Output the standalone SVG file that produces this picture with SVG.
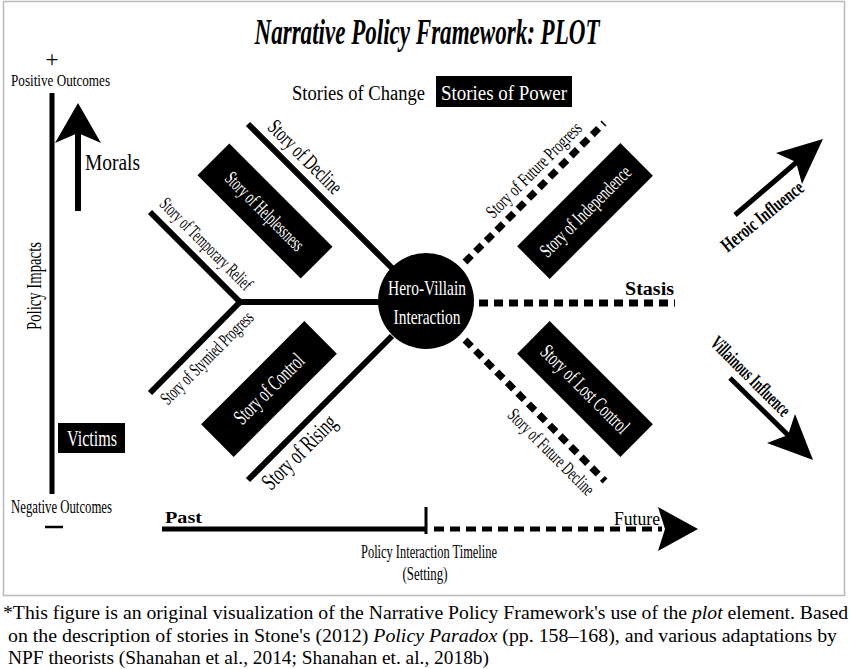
<svg xmlns="http://www.w3.org/2000/svg" width="850" height="669" viewBox="0 0 850 669">
<defs>
<style>
text{font-family:"Liberation Serif","Times New Roman",serif;fill:#000}
.w{fill:#fff}
.c{text-anchor:middle}
.ln{stroke:#000;stroke-width:6;fill:none}
.dl{stroke:#000;stroke-width:7;stroke-dasharray:9 6;fill:none}
.box{fill:#000}
.b{font-weight:bold}
</style>
</defs>
<rect x="0" y="0" width="850" height="669" fill="#fff"/>
<rect x="3.5" y="1.5" width="841" height="594" fill="none" stroke="#bbb" stroke-width="1.5"/>

<g id="title">
<text x="427" y="44" class="c b" font-size="36" font-style="italic" textLength="345" lengthAdjust="spacingAndGlyphs">Narrative Policy Framework: PLOT</text>
</g>

<g id="policy-axis">
<line x1="52" y1="93" x2="52" y2="494" stroke="#000" stroke-width="5"/>
<text x="52" y="67" class="c" font-size="23">+</text>
<text x="11" y="86" font-size="17.5" textLength="99" lengthAdjust="spacingAndGlyphs">Positive Outcomes</text>
<text x="11" y="513" font-size="18" textLength="101" lengthAdjust="spacingAndGlyphs">Negative  Outcomes</text>
<line x1="45" y1="527" x2="63" y2="527" stroke="#000" stroke-width="2.5"/>
<text transform="translate(41,286) rotate(-90)" class="c" font-size="21" textLength="88" lengthAdjust="spacingAndGlyphs">Policy Impacts</text>
</g>

<g id="morals">
<line x1="78" y1="211" x2="78" y2="130" stroke="#000" stroke-width="6"/>
<polygon points="78,103 101,143 78,133 55,143" fill="#000"/>
<text x="85" y="170" font-size="23" textLength="55" lengthAdjust="spacingAndGlyphs">Morals</text>
</g>

<g id="victims">
<rect x="58" y="423" width="67" height="30" class="box"/>
<text x="67" y="446" class="w" font-size="23" textLength="50" lengthAdjust="spacingAndGlyphs">Victims</text>
</g>

<g id="stories-headers">
<text x="292" y="100" font-size="20.5" textLength="133" lengthAdjust="spacingAndGlyphs">Stories of Change</text>
<rect x="436" y="76" width="136" height="31" class="box"/>
<text x="441" y="100" class="w" font-size="21" textLength="126" lengthAdjust="spacingAndGlyphs">Stories of Power</text>
</g>

<g id="connectors">
<line class="ln" x1="248" y1="124" x2="392" y2="268"/>
<line class="ln" x1="237" y1="302" x2="382" y2="302"/>
<line class="ln" x1="150" y1="212" x2="242" y2="304"/>
<line class="ln" x1="242" y1="300" x2="150" y2="393"/>
<line class="ln" x1="248" y1="480" x2="392" y2="336"/>
<line class="dl" x1="465" y1="262" x2="604" y2="123"/>
<line class="dl" x1="479" y1="303" x2="675" y2="303"/>
<line class="dl" x1="465" y1="340" x2="605" y2="481"/>
</g>

<g id="hero-villain">
<circle cx="426" cy="301" r="48" fill="#000"/>
<text x="427" y="295" class="c w" font-size="22" textLength="78" lengthAdjust="spacingAndGlyphs">Hero-Villain</text>
<text x="427" y="324" class="c w" font-size="22" textLength="67" lengthAdjust="spacingAndGlyphs">Interaction</text>
</g>

<g id="story-decline">
<text transform="translate(305,157) rotate(45)" x="0" y="7" class="c" font-size="22" textLength="95" lengthAdjust="spacingAndGlyphs">Story of Decline</text>
</g>
<g id="story-temporary-relief">
<text transform="translate(206,244) rotate(45)" x="0" y="6" class="c" font-size="19" textLength="122" lengthAdjust="spacingAndGlyphs">Story of Temporary Relief</text>
</g>
<g id="story-stymied-progress">
<text transform="translate(207,358) rotate(-45)" x="0" y="6" class="c" font-size="19" textLength="123" lengthAdjust="spacingAndGlyphs">Story of Stymied Progress</text>
</g>
<g id="story-rising">
<text transform="translate(299,452) rotate(-45)" x="0" y="8" class="c" font-size="24" textLength="95" lengthAdjust="spacingAndGlyphs">Story of Rising</text>
</g>
<g id="story-future-progress">
<text transform="translate(534,170) rotate(-45)" x="0" y="6" class="c" font-size="19" textLength="127" lengthAdjust="spacingAndGlyphs">Story of Future Progress</text>
</g>
<g id="story-future-decline">
<text transform="translate(551,452) rotate(45)" x="0" y="6" class="c" font-size="19" textLength="114" lengthAdjust="spacingAndGlyphs">Story of Future Decline</text>
</g>
<g id="stasis">
<text x="625" y="295" font-size="18" class="b" textLength="49" lengthAdjust="spacingAndGlyphs">Stasis</text>
</g>

<g id="story-helplessness" transform="translate(265,211) rotate(45)">
<rect x="-73" y="-22.5" width="146" height="45" class="box"/>
<text x="0" y="7" class="c w" font-size="20" textLength="103" lengthAdjust="spacingAndGlyphs">Story of Helplessness</text>
</g>
<g id="story-control" transform="translate(269,389) rotate(-45)">
<rect x="-73" y="-23" width="146" height="46" class="box"/>
<text x="0" y="7" class="c w" font-size="22" textLength="90" lengthAdjust="spacingAndGlyphs">Story of Control</text>
</g>
<g id="story-independence" transform="translate(585,211) rotate(-45)">
<rect x="-73" y="-23" width="146" height="46" class="box"/>
<text x="0" y="7" class="c w" font-size="20" textLength="120" lengthAdjust="spacingAndGlyphs">Story of Independence</text>
</g>
<g id="story-lost-control" transform="translate(585,389) rotate(45)">
<rect x="-73" y="-23" width="146" height="46" class="box"/>
<text x="0" y="7" class="c w" font-size="21" textLength="116" lengthAdjust="spacingAndGlyphs">Story of Lost Control</text>
</g>

<g id="heroic-influence">
<line x1="735" y1="215" x2="805" y2="155" stroke="#000" stroke-width="5"/>
<polygon points="823,139 802,184 796,162 776,153" fill="#000"/>
<text transform="translate(762,216) rotate(-39)" x="0" y="7" class="c b" font-size="20" textLength="100" lengthAdjust="spacingAndGlyphs">Heroic Influence</text>
</g>
<g id="villainous-influence">
<line x1="730" y1="378" x2="796" y2="443" stroke="#000" stroke-width="5"/>
<polygon points="813,460 767,443 788,435 795,414" fill="#000"/>
<text transform="translate(751,376) rotate(45)" x="0" y="7" class="c b" font-size="20" textLength="104" lengthAdjust="spacingAndGlyphs">Villainous Influence</text>
</g>

<g id="timeline">
<line x1="162" y1="529" x2="427" y2="529" stroke="#000" stroke-width="5"/>
<line x1="426" y1="507" x2="426" y2="534" stroke="#000" stroke-width="3"/>
<line x1="434" y1="529" x2="662" y2="529" stroke="#000" stroke-width="5" stroke-dasharray="10 6"/>
<polygon points="698,529 658,507 665,529 658,551" fill="#000"/>
<text x="165" y="523" font-size="17" class="b" textLength="37" lengthAdjust="spacingAndGlyphs">Past</text>
<text x="614" y="525" font-size="18" textLength="46" lengthAdjust="spacingAndGlyphs">Future</text>
<text x="429" y="558" class="c" font-size="18" textLength="136" lengthAdjust="spacingAndGlyphs">Policy Interaction Timeline</text>
<text x="425" y="580" class="c" font-size="18" textLength="45" lengthAdjust="spacingAndGlyphs">(Setting)</text>
</g>

<g id="caption">
<text x="3" y="619" font-size="19.5" textLength="845" lengthAdjust="spacingAndGlyphs">*This figure is an original visualization of the Narrative Policy Framework's use of the <tspan font-style="italic">plot</tspan> element. Based</text>
<text x="8" y="642" font-size="19.5" textLength="829" lengthAdjust="spacingAndGlyphs">on the description of stories in Stone's (2012) <tspan font-style="italic">Policy Paradox</tspan> (pp. 158–168), and various adaptations by</text>
<text x="8" y="664" font-size="19.5" textLength="481" lengthAdjust="spacingAndGlyphs">NPF theorists (Shanahan et al., 2014; Shanahan et. al., 2018b)</text>
</g>
</svg>
